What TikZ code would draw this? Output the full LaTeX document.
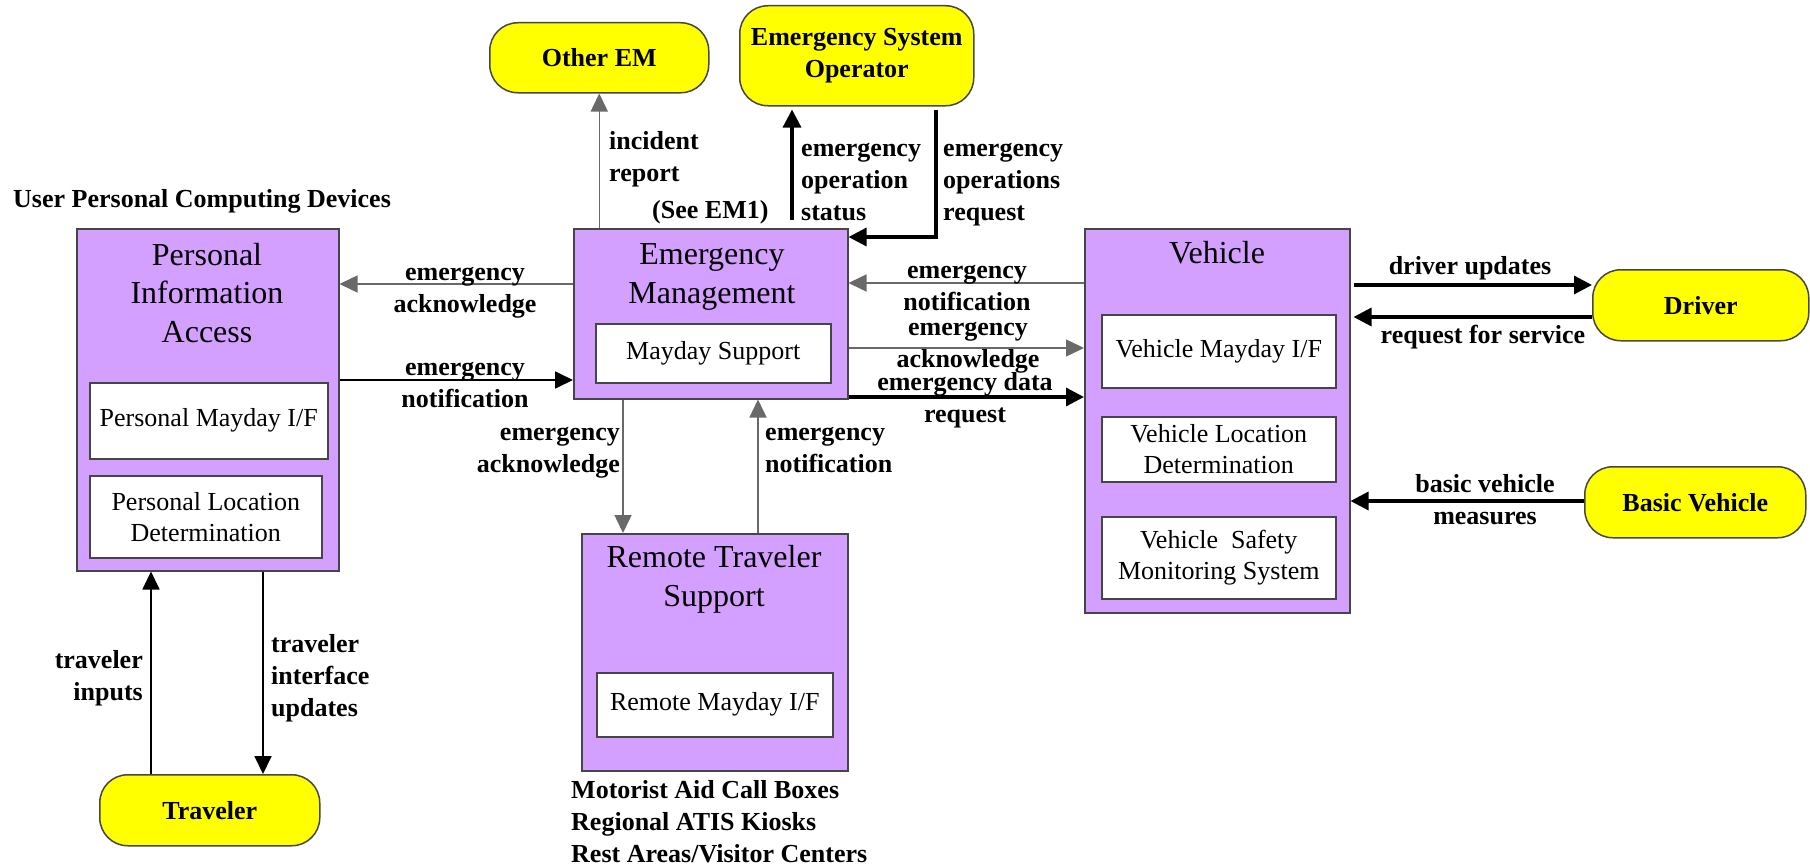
\documentclass[tikz,border=0pt]{standalone}
\usepackage{fontspec}
\setmainfont{Liberation Serif}
\usetikzlibrary{arrows.meta,positioning}
\definecolor{boxpurple}{RGB}{212,160,255}
\definecolor{termyellow}{RGB}{255,255,0}
\definecolor{flowgray}{RGB}{105,105,105}
\definecolor{edgegray}{RGB}{70,70,70}

\begin{document}
\begin{tikzpicture}[
    x=1pt, y=-1pt,
    system/.style={draw=edgegray, line width=1.5pt, fill=boxpurple, anchor=north west, inner sep=0pt},
    module/.style={draw=edgegray, line width=1.5pt, fill=white, anchor=north west, inner sep=0pt,
        align=center, font=\fontsize{26}{31}\selectfont},
    terminator/.style={draw=edgegray, line width=1.5pt, fill=termyellow, rounded corners=28pt,
        anchor=north west, inner sep=0pt, align=center, font=\fontsize{26}{32}\selectfont\bfseries},
    box title/.style={anchor=base, align=center, inner sep=0pt, font=\fontsize{32}{38.5}\selectfont},
    flow label/.style={inner sep=0pt, align=center, font=\fontsize{26}{32}\selectfont\bfseries},
    flow/.style={draw=flowgray, line width=1.5pt, -{Triangle[length=18pt,width=17pt]}},
    thin flow/.style={draw=black, line width=1.8pt, -{Triangle[length=18pt,width=17pt]}},
    heavy flow/.style={draw=black, line width=3.2pt, -{Triangle[length=18pt,width=18pt]}}
    ]
    \fill[white] (0,0) rectangle (1810,867);

    % systems (multi-line texts sit on the baseline of their last line)
    \node[system, minimum width=262, minimum height=342] (pia) at (76,228) {};
    \node[box title] (piatitle) at (207,342) {Personal\\Information\\Access};
    \node[module, minimum width=238, minimum height=76] (pmay) at (89,382) {Personal Mayday I/F};
    \node[module, minimum width=232, minimum height=82] (ploc) at (89,475) {Personal Location\\Determination};

    \node[system, minimum width=274, minimum height=170] (em) at (573,228) {};
    \node[box title] (emtitle) at (712,303) {Emergency\\Management};
    \node[module, minimum width=235, minimum height=59] (may) at (595,323) {Mayday Support};

    \node[system, minimum width=266, minimum height=237] (rts) at (581,533) {};
    \node[box title] (rtstitle) at (714,606) {Remote Traveler\\Support};
    \node[module, minimum width=236, minimum height=64] (rmay) at (596,672) {Remote Mayday I/F};

    \node[system, minimum width=265, minimum height=384] (veh) at (1084,228) {};
    \node[box title] (vehtitle) at (1217,263) {Vehicle};
    \node[module, minimum width=234, minimum height=73] (vmay) at (1101,314) {Vehicle Mayday I/F};
    \node[module, minimum width=234, minimum height=65] (vloc) at (1101,416) {Vehicle Location\\Determination};
    \node[module, minimum width=234, minimum height=82] (vsafe) at (1101,516) {Vehicle~~Safety\\Monitoring System};

    % terminators
    \node[terminator, minimum width=219, minimum height=70] (otherem) at (489,22) {Other EM};
    \node[terminator, minimum width=234, minimum height=100] (eso) at (739,5) {Emergency System\\Operator};
    \node[terminator, minimum width=216, minimum height=71] (driver) at (1592,269) {Driver};
    \node[terminator, minimum width=221, minimum height=71] (bveh) at (1584,466) {Basic Vehicle};
    \node[terminator, minimum width=220, minimum height=71] (trav) at (99,774) {Traveler};

    % captions
    \node[flow label, anchor=base west] (upcd) at (13,207) {User Personal Computing Devices};
    \node[flow label, anchor=base west, align=left] (sites) at (571,862)
        {Motorist Aid Call Boxes\\Regional ATIS Kiosks\\Rest Areas/Visitor Centers};

    % flows
    \draw[flow] (em.north -| otherem.south) -- (otherem.south);
    \node[flow label, anchor=base west, align=left] (incl) at (609,181) {incident\\report};
    \node[flow label, anchor=base west] (seeem) at (652,218) {(See EM1)};

    \draw[heavy flow, shorten <=8pt, shorten >=3pt] (em.north -| 792,0) -- (eso.south -| 792,0);
    \node[flow label, anchor=base west, align=left] (eosl) at (801,220) {emergency\\operation\\status};
    \draw[heavy flow, shorten <=3pt] (eso.south -| 936,0) |- (em.east |- 0,237);
    \node[flow label, anchor=base west, align=left] (eorl) at (943,220) {emergency\\operations\\request};

    \draw[flow] (em.west |- 0,284) -- (pia.east |- 0,284);
    \node[flow label, anchor=base] (ackl) at (465,312) {emergency\\acknowledge};
    \draw[thin flow] (pia.east |- 0,380) -- (em.west |- 0,380);
    \node[flow label, anchor=base] (notl) at (465,407) {emergency\\notification};

    \draw[flow] (veh.west |- 0,283) -- (em.east |- 0,283);
    \node[flow label, anchor=base] (vnotl) at (967,310) {emergency\\notification};
    \draw[flow] (em.east |- 0,348) -- (veh.west |- 0,348);
    \node[flow label, anchor=base] (vackl) at (968,367) {emergency\\acknowledge};
    \draw[heavy flow] (em.east |- 0,397) -- (veh.west |- 0,397);
    \node[flow label, anchor=base] (datal) at (965,422) {emergency data\\request};

    \draw[flow] (em.south -| 623,0) -- (rts.north -| 623,0);
    \node[flow label, anchor=base east, align=right] (rackl) at (620,472) {emergency\\acknowledge};
    \draw[flow] (rts.north -| 758,0) -- (em.south -| 758,0);
    \node[flow label, anchor=base west, align=left] (rnotl) at (765,472) {emergency\\notification};

    \draw[heavy flow, shorten <=3pt] (veh.east |- 0,285) -- (driver.west |- 0,285);
    \node[flow label, anchor=base] (drvl) at (1470,274) {driver updates};
    \draw[heavy flow, shorten >=3pt] (driver.west |- 0,317) -- (veh.east |- 0,317);
    \node[flow label, anchor=base] (reql) at (1483,343) {request for service};
    \draw[heavy flow] (bveh.west |- 0,501) -- (veh.east |- 0,501);
    \node[flow label, anchor=base] (bvl) at (1485,524) {basic vehicle\\measures};

    \draw[thin flow] (trav.north -| 151,0) -- (pia.south -| 151,0);
    \node[flow label, anchor=base east, align=right] (tinl) at (143,700) {traveler\\inputs};
    \draw[thin flow] (pia.south -| 263,0) -- (trav.north -| 263,0);
    \node[flow label, anchor=base west, align=left] (tupl) at (271,716) {traveler\\interface\\updates};

\end{tikzpicture}
\end{document}
